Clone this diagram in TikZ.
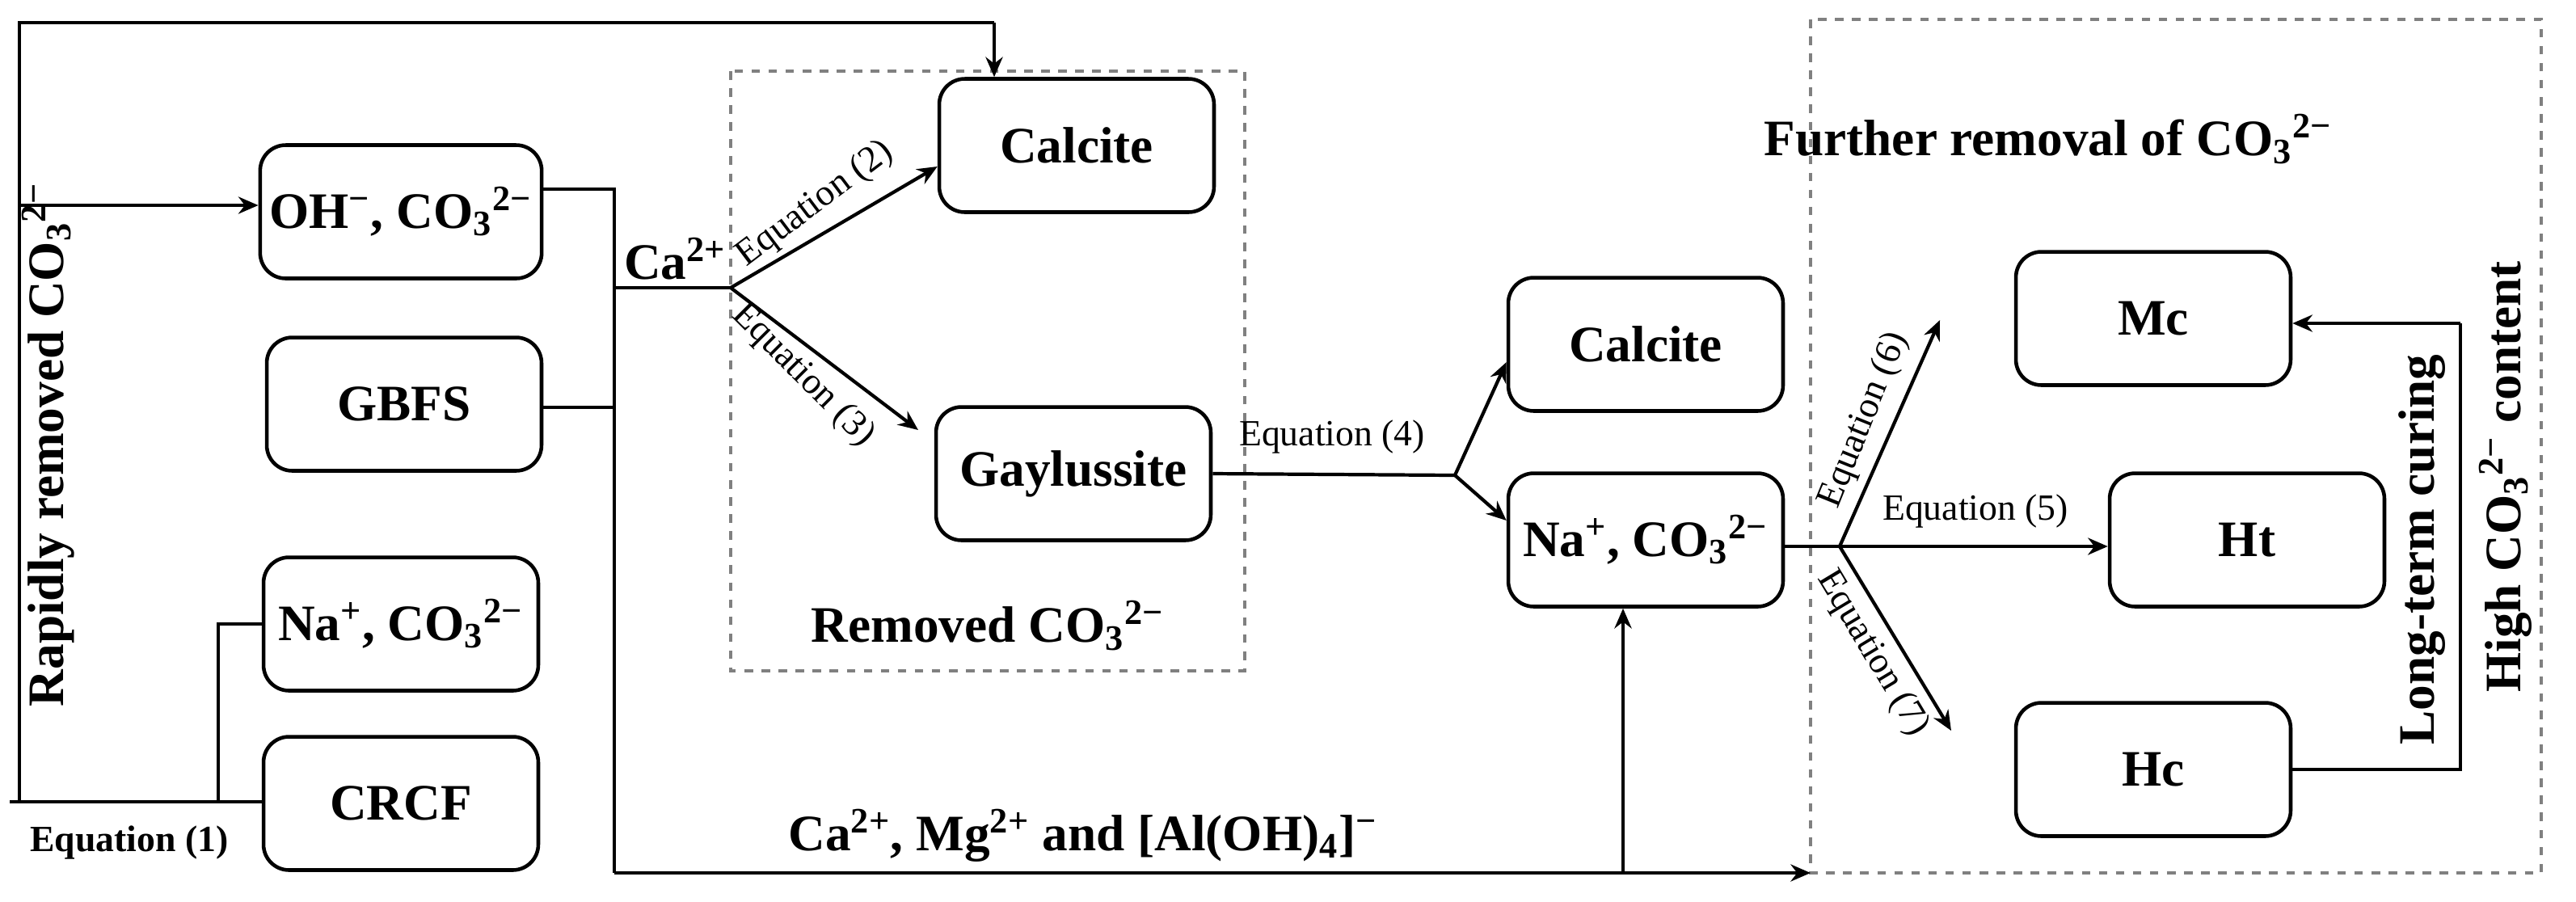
\documentclass[tikz,border=0pt]{standalone}
\usepackage{fontspec}
\setmainfont{Liberation Serif}
\usetikzlibrary{arrows.meta}
\begin{document}
\begin{tikzpicture}[x=0.02cm,y=-0.02cm,
  box/.style={draw,line width=1.3pt,rounded corners=9pt,minimum width=3.4cm,minimum height=1.65cm,font=\bfseries\fontsize{18}{20}\selectfont},
  ln/.style={line width=1.2pt},
  arr/.style={line width=1.2pt,-{Stealth[length=7pt,width=6pt]}},
  dbox/.style={draw=gray,dashed,line width=1.2pt},
  eq/.style={font=\fontsize{13}{15}\selectfont},
  big/.style={font=\bfseries\fontsize{18}{20}\selectfont}]
\useasboundingbox (0,0) rectangle (1593.5,557.5);
% dashed boxes
\draw[dbox] (452,44) rectangle (770,415);
\draw[dbox] (1120,12) rectangle (1572,540);
% boxes
\node[box] (oh) at (248,131) {OH\textsuperscript{−}, CO\textsubscript{3}\textsuperscript{2−}};
\node[box] (gbfs) at (250,250) {GBFS};
\node[box] (na1) at (248,386) {Na\textsuperscript{+}, CO\textsubscript{3}\textsuperscript{2−}};
\node[box] (crcf) at (248,497) {CRCF};
\node[box] (cal1) at (666,90) {Calcite};
\node[box] (gay) at (664,293) {Gaylussite};
\node[box] (cal2) at (1018,213) {Calcite};
\node[box] (na2) at (1018,334) {Na\textsuperscript{+}, CO\textsubscript{3}\textsuperscript{2−}};
\node[box] (mc) at (1332,197) {Mc};
\node[box] (ht) at (1390,334) {Ht};
\node[box] (hc) at (1332,476) {Hc};
% coordinates
\coordinate (tl) at (12,14);
\coordinate (tr) at (615,14);
\coordinate (bl) at (12,496);
\coordinate (end1) at (6,496);
\coordinate (j1) at (135,496);
\coordinate (ohin) at (12,127);
\coordinate (v1) at (380,117);
\coordinate (v2) at (380,178);
\coordinate (br1) at (452,178);
\coordinate (g1) at (380,252);
\coordinate (g2) at (380,540);
\coordinate (bend) at (1120,540);
\coordinate (up) at (1004,540);
\coordinate (br2) at (900,294);
\coordinate (br3) at (1138,338);
\coordinate (e6) at (1200,198);
\coordinate (e7) at (1207,452);
\coordinate (hr) at (1522,476);
\coordinate (mr) at (1522,200);
% left loop
\draw[ln] (crcf.west |- end1) -- (end1);
\draw[ln] (bl) -- (tl) -- (tr);
\draw[arr] (tr) -- (tr |- cal1.north);
\draw[arr] (ohin) -- (oh.west |- ohin);
\draw[ln] (na1.west) -- (na1.west -| j1) -- (j1);
% Ca branch
\draw[ln] (oh.east |- v1) -- (v1) -- (g1);
\draw[ln] (v2) -- (br1);
\draw[arr] (br1) -- (cal1.west |- 0,103);
\draw[arr] (br1) -- (568,266);
\draw[ln] (gbfs.east |- g1) -- (g1) -- (g2);
\draw[arr] (g2) -- (bend);
\draw[arr] (up) -- (up |- na2.south);
% Gaylussite branch
\draw[ln] (gay.east) -- (br2);
\draw[arr] (br2) -- (cal2.west |- 0,224);
\draw[arr] (br2) -- (na2.west |- 0,322);
% Na2 branch
\draw[ln] (na2.east |- br3) -- (br3);
\draw[arr] (br3) -- (e6);
\draw[arr] (br3) -- (ht.west |- br3);
\draw[arr] (br3) -- (e7);
% Hc -> Mc
\draw[ln] (hc.east) -- (hr) -- (mr);
\draw[arr] (mr) -- (mc.east |- mr);
% labels
\node[big,rotate=90] (lr) at (30,275) {Rapidly removed CO\textsubscript{3}\textsuperscript{2−}};
\node[font=\bfseries\fontsize{13}{15}\selectfont] (l1) at (80,521) {Equation (1)};
\node[big,anchor=south west,inner sep=1pt] (lca) at (384,175) {Ca\textsuperscript{2+}};
\node[eq,rotate=37,anchor=south,inner sep=3pt] (l2) at (514,139) {Equation (2)};
\node[eq,rotate=-45,anchor=north,inner sep=3pt] (l3) at (508,221) {Equation (3)};
\node[big] (lrem) at (611,387) {Removed CO\textsubscript{3}\textsuperscript{2−}};
\node[eq] (l4) at (824,270) {Equation (4)};
\node[big] (lca2) at (670,517) {Ca\textsuperscript{2+}, Mg\textsuperscript{2+} and [Al(OH)\textsubscript{4}]\textsuperscript{−}};
\node[big] (lfr) at (1267,86) {Further removal of CO\textsubscript{3}\textsuperscript{2−}};
\node[eq,rotate=68,anchor=south,inner sep=3pt] (l6) at (1168,266) {Equation (6)};
\node[eq] (l5) at (1222,316) {Equation (5)};
\node[eq,rotate=-59,anchor=north,inner sep=3pt] (l7) at (1172,396) {Equation (7)};
\node[big,rotate=90] (llt) at (1498,340) {Long-term curing};
\node[big,rotate=90] (lhi) at (1550,295) {High CO\textsubscript{3}\textsuperscript{2−} content};
\end{tikzpicture}
\end{document}
